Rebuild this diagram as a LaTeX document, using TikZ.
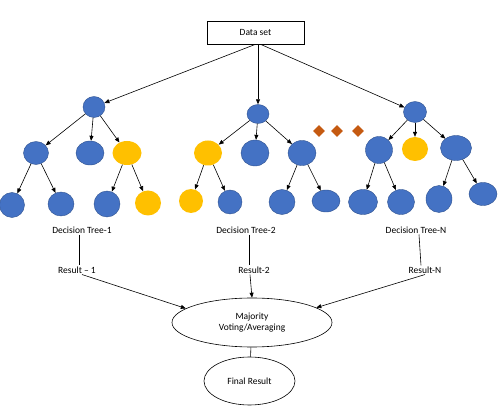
\documentclass[tikz,border=0pt]{standalone}
\usepackage{fontspec}
\setmainfont{Carlito}
\usepackage{xcolor}
\usetikzlibrary{arrows.meta,shapes.geometric}

\definecolor{leafblue}{HTML}{4472C4}
\definecolor{edgeblue}{HTML}{2F528F}
\definecolor{leafyellow}{HTML}{FFC000}
\definecolor{dotbrown}{HTML}{C55A11}

\begin{document}
\begin{tikzpicture}[x=1pt, y=-1pt, font=\fontsize{9.5}{11.5}\selectfont,
    bnode/.style={ellipse, fill=leafblue, draw=edgeblue, line width=0.4pt, inner sep=0pt},
    ynode/.style={ellipse, fill=leafyellow, inner sep=0pt},
    dots/.style={diamond, fill=dotbrown, inner sep=0pt, minimum width=12pt, minimum height=12pt},
    arr/.style={-{Triangle[length=5pt,width=4pt]}, line width=0.6pt},
    lbl/.style={inner sep=1pt}]
    \useasboundingbox (0,0) rectangle (499,406);

    % Data set
    \node [draw, line width=0.6pt, minimum width=97pt, minimum height=23pt, inner sep=0pt] (data) at (255.5,32.5) {Data set};

    % Tree 1
    \node [bnode, minimum width=22pt, minimum height=21pt] (r1) at (94,107) {};
    \node [bnode, minimum width=25pt, minimum height=23pt] (a1) at (36,153) {};
    \node [bnode, minimum width=28pt, minimum height=24pt] (b1) at (90,153) {};
    \node [ynode, minimum width=29pt, minimum height=24pt] (c1) at (127,153) {};
    \node [bnode, minimum width=25pt, minimum height=25pt] (a1l) at (12,205) {};
    \node [bnode, minimum width=26pt, minimum height=24pt] (a1r) at (61,204) {};
    \node [bnode, minimum width=26pt, minimum height=26pt] (c1l) at (107,204) {};
    \node [ynode, minimum width=26pt, minimum height=25pt] (c1r) at (148,203) {};
    \draw [arr] (r1) -- (a1);
    \draw [arr] (r1) -- (b1);
    \draw [arr] (r1) -- (c1);
    \draw [arr] (a1) -- (a1l);
    \draw [arr] (a1) -- (a1r);
    \draw [arr] (c1) -- (c1l);
    \draw [arr] (c1) -- (c1r);

    % Tree 2
    \node [bnode, minimum width=22pt, minimum height=19pt] (r2) at (258,114) {};
    \node [ynode, minimum width=28pt, minimum height=25pt] (a2) at (208,153) {};
    \node [bnode, minimum width=28pt, minimum height=26pt] (b2) at (255,153) {};
    \node [bnode, minimum width=28pt, minimum height=25pt] (c2) at (302,153) {};
    \node [ynode, minimum width=24pt, minimum height=24pt] (a2l) at (191,201) {};
    \node [bnode, minimum width=24pt, minimum height=24pt] (a2r) at (230,202) {};
    \node [bnode, minimum width=26pt, minimum height=25pt] (c2l) at (282,202) {};
    \node [bnode, minimum width=28pt, minimum height=22pt] (c2r) at (326,201) {};
    \draw [arr] (r2) -- (a2);
    \draw [arr] (r2) -- (b2);
    \draw [arr] (r2) -- (c2);
    \draw [arr] (a2) -- (a2l);
    \draw [arr] (a2) -- (a2r);
    \draw [arr] (c2) -- (c2l);
    \draw [arr] (c2) -- (c2r);

    % more trees
    \node [dots] (d1) at (319,131) {};
    \node [dots] (d2) at (337,131) {};
    \node [dots] (d3) at (358,131) {};

    % Tree N
    \node [bnode, minimum width=23pt, minimum height=21pt] (r3) at (415,112) {};
    \node [bnode, minimum width=27pt, minimum height=27pt] (a3) at (379,150) {};
    \node [ynode, minimum width=26pt, minimum height=24pt] (b3) at (415,149) {};
    \node [bnode, minimum width=31pt, minimum height=25pt] (c3) at (456,148) {};
    \node [bnode, minimum width=29pt, minimum height=25pt] (a3l) at (363,202) {};
    \node [bnode, minimum width=27pt, minimum height=25pt] (a3r) at (401,202) {};
    \node [bnode, minimum width=26pt, minimum height=27pt] (c3l) at (439,199) {};
    \node [bnode, minimum width=28pt, minimum height=23pt] (c3r) at (483,194) {};
    \draw [arr] (r3) -- (a3);
    \draw [arr] (r3) -- (b3);
    \draw [arr] (r3) -- (c3);
    \draw [arr] (a3) -- (a3l);
    \draw [arr] (a3) -- (a3r);
    \draw [arr] (c3) -- (c3l);
    \draw [arr] (c3) -- (c3r);

    % from data set
    \draw [arr] (data.south) -- (r1);
    \draw [arr] (data.south) ++(2.5,0) -- (r2);
    \draw [arr] (data.south) ++(5,0) -- (r3);

    % labels and results
    \node [lbl] (t1) at (82,230) {Decision Tree-1};
    \node [lbl] (t2) at (246,230) {Decision Tree-2};
    \node [lbl] (t3) at (416,230) {Decision Tree-N};
    \node [lbl] (res1) at (77,270) {Result -- 1};
    \node [lbl] (res2) at (254,270) {Result-2};
    \node [lbl] (res3) at (425,270) {Result-N};
    \draw [line width=0.6pt] ([xshift=-3pt]t1.south) -- ([xshift=2pt]res1.north);
    \draw [line width=0.6pt] ([xshift=3pt]t2.south) -- ([xshift=-5pt]res2.north);
    \draw [line width=0.6pt] ([xshift=3pt]t3.south) -- ([xshift=-4pt]res3.north);

    % voting
    \node [ellipse, draw, line width=0.6pt, minimum width=160pt, minimum height=49pt, align=center, inner sep=0pt] (maj) at (252,322.5) {Majority\\Voting/Averaging};
    \node [ellipse, draw, line width=0.6pt, minimum width=91pt, minimum height=48pt, inner sep=0pt] (fin) at (249.5,381) {Final Result};
    \draw [arr] ([xshift=5pt]res1.south) -- (maj.168);
    \draw [arr] ([xshift=-4pt]res2.south) -- (maj.north);
    \draw [arr] (res3.south) -- (maj.13);
    \draw [line width=0.6pt] (maj) -- (fin);
\end{tikzpicture}
\end{document}
